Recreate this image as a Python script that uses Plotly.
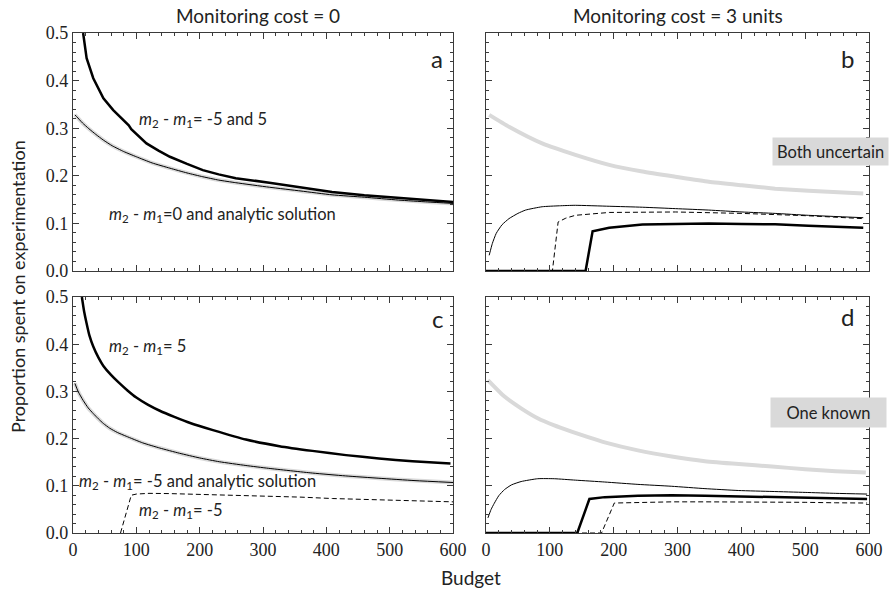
import plotly.graph_objects as go

# ---------------- data ----------------
# Panel a (monitoring cost = 0, both uncertain)
a_thick_x = [16, 21.5, 32, 48, 63.5, 75, 84, 88, 92, 104, 116, 135, 153, 180, 205, 230, 257, 310, 360, 409, 460, 514, 560, 600]
a_thick_y = [0.5, 0.447, 0.405, 0.363, 0.338, 0.323, 0.312, 0.306, 0.298, 0.282, 0.268, 0.253, 0.240, 0.225, 0.212, 0.203, 0.195, 0.1855, 0.175, 0.166, 0.159, 0.153, 0.149, 0.145]
a_thin_x = [3, 6, 15, 25, 36, 48, 62, 80, 100, 125, 153, 180, 205, 230, 257, 310, 360, 409, 460, 514, 560, 600]
a_thin_y = [0.328, 0.324, 0.311, 0.299, 0.287, 0.275, 0.263, 0.251, 0.240, 0.227, 0.216, 0.206, 0.198, 0.191, 0.1855, 0.176, 0.168, 0.160, 0.155, 0.149, 0.145, 0.142]

# Panel b (monitoring cost = 3, both uncertain)
b_gray_x = [5, 36, 88, 140, 193, 245, 297, 349, 401, 453, 505, 591]
b_gray_y = [0.328, 0.303, 0.268, 0.244, 0.223, 0.209, 0.198, 0.1875, 0.180, 0.173, 0.1685, 0.163]
b_thin_x = [5, 10, 16, 25, 36, 50, 62, 88, 115, 140, 193, 245, 297, 349, 401, 453, 505, 591]
b_thin_y = [0.033, 0.058, 0.079, 0.097, 0.110, 0.121, 0.128, 0.135, 0.137, 0.138, 0.136, 0.134, 0.131, 0.128, 0.124, 0.121, 0.117, 0.112]
b_dash_x = [0, 104, 113, 125, 140, 193, 297, 401, 505, 591]
b_dash_y = [0, 0, 0.103, 0.111, 0.117, 0.123, 0.124, 0.121, 0.116, 0.110]
b_thick_x = [0, 156, 167, 180, 193, 245, 297, 349, 401, 453, 505, 591]
b_thick_y = [0, 0, 0.0836, 0.088, 0.091, 0.0976, 0.099, 0.0997, 0.099, 0.098, 0.095, 0.091]

# Panel c (monitoring cost = 0, one known)
c_thick_x = [14, 17.5, 21.5, 26, 32, 40, 48, 60, 72, 86, 100, 118, 137, 160, 185, 221, 273, 326, 378, 431, 483, 536, 596]
c_thick_y = [0.5, 0.47, 0.444, 0.418, 0.395, 0.372, 0.354, 0.335, 0.319, 0.302, 0.287, 0.272, 0.259, 0.246, 0.233, 0.218, 0.198, 0.184, 0.174, 0.165, 0.158, 0.152, 0.147]
c_thin_x = [3, 8, 16, 24, 32, 40, 48, 58, 70, 84, 110, 137, 168, 200, 231, 273, 309, 378, 430, 483, 540, 600]
c_thin_y = [0.317, 0.300, 0.281, 0.265, 0.253, 0.242, 0.232, 0.222, 0.213, 0.205, 0.191, 0.180, 0.169, 0.159, 0.151, 0.143, 0.137, 0.127, 0.121, 0.116, 0.111, 0.107]
c_dash_x = [75, 92, 100, 120, 152, 200, 253, 309, 360, 410, 460, 514, 560, 600]
c_dash_y = [0, 0.080, 0.0825, 0.084, 0.0835, 0.082, 0.080, 0.0785, 0.076, 0.073, 0.071, 0.069, 0.067, 0.066]

# Panel d (monitoring cost = 3, one known)
d_gray_x = [3, 29, 55, 81, 107, 134, 160, 186, 238, 291, 343, 396, 448, 500, 548, 595]
d_gray_y = [0.324, 0.289, 0.264, 0.243, 0.228, 0.215, 0.203, 0.192, 0.175, 0.162, 0.152, 0.146, 0.141, 0.135, 0.131, 0.128]
d_thin_x = [3, 8, 13, 20, 29, 40, 55, 81, 107, 140, 186, 238, 291, 343, 396, 448, 500, 548, 597]
d_thin_y = [0.032, 0.050, 0.063, 0.079, 0.092, 0.102, 0.109, 0.115, 0.115, 0.112, 0.108, 0.103, 0.099, 0.094, 0.090, 0.088, 0.086, 0.084, 0.0825]
d_thick_x = [0, 143, 162, 186, 238, 291, 343, 396, 448, 500, 548, 597]
d_thick_y = [0, 0, 0.072, 0.076, 0.079, 0.080, 0.079, 0.0776, 0.076, 0.074, 0.073, 0.072]
d_dash_x = [0, 181, 201, 238, 291, 343, 396, 448, 500, 548, 597]
d_dash_y = [0, 0, 0.0635, 0.065, 0.066, 0.066, 0.066, 0.0656, 0.065, 0.064, 0.0635]

x_ticks = [0, 100, 200, 300, 400, 500, 600]
y_ticks = [0.0, 0.1, 0.2, 0.3, 0.4, 0.5]
col_titles = ["Monitoring cost = 0", "Monitoring cost = 3 units"]
panel_letters = ["a", "b", "c", "d"]

# ---------------- figure ----------------
W, H = 889, 590
GRAY = "#d9d9d9"
SANS = "Lato, Open Sans, sans-serif"
SERIF = "Liberation Serif, Times New Roman, serif"

def px(x):
    return x / W

def py(y):
    return 1 - y / H

fig = go.Figure()

def add(xs, ys, axis, color="black", width=1.0, dash="solid", shape="spline"):
    fig.add_trace(go.Scatter(
        x=xs, y=ys, mode="lines", xaxis="x" + axis, yaxis="y" + axis,
        line=dict(color=color, width=width, dash=dash, shape=shape,
                  smoothing=0.5 if shape == "spline" else None),
        showlegend=False, hoverinfo="skip"))

# a
add(a_thin_x, a_thin_y, "", GRAY, 4)
add(a_thin_x, a_thin_y, "", "black", 1)
add(a_thick_x, a_thick_y, "", "black", 2.5, "solid", "linear")
# b
add(b_gray_x, b_gray_y, "2", GRAY, 4)
add(b_thin_x, b_thin_y, "2", "black", 1)
add(b_dash_x, b_dash_y, "2", "black", 1, "5px,3px", "linear")
add(b_thick_x, b_thick_y, "2", "black", 2.5, "solid", "linear")
# c
add(c_thin_x, c_thin_y, "3", GRAY, 4)
add(c_thin_x, c_thin_y, "3", "black", 1)
add(c_thick_x, c_thick_y, "3", "black", 2.5)
add(c_dash_x, c_dash_y, "3", "black", 1, "5px,3px", "linear")
# d
add(d_gray_x, d_gray_y, "4", GRAY, 4)
add(d_thin_x, d_thin_y, "4", "black", 1)
add(d_thick_x, d_thick_y, "4", "black", 2.5, "solid", "linear")
add(d_dash_x, d_dash_y, "4", "black", 1, "5px,3px", "linear")

xl = [px(73), px(453)]
xr = [px(486), px(869)]
yt = [py(271), py(33)]
yb = [py(533), py(297)]

LC = "#3a3a3a"

def xaxis(domain, anchor, labels):
    return dict(domain=domain, anchor=anchor, range=[0, 600], tickvals=x_ticks,
                showticklabels=labels, ticks="inside", ticklen=6, tickcolor=LC,
                minor=dict(ticks="inside", dtick=20, tick0=0, ticklen=3, tickcolor=LC),
                mirror="allticks", showline=True, linecolor=LC, linewidth=1.2,
                showgrid=False, zeroline=False, automargin=False,
                tickfont=dict(family=SERIF, size=18, color="#222"))

def yaxis(domain, anchor, labels):
    return dict(domain=domain, anchor=anchor, range=[0, 0.5], tickvals=y_ticks,
                tickformat=".1f", showticklabels=labels, ticks="inside", ticklen=6,
                tickcolor=LC,
                minor=dict(ticks="inside", dtick=0.02, tick0=0, ticklen=3, tickcolor=LC),
                mirror="allticks", showline=True, linecolor=LC, linewidth=1.2,
                showgrid=False, zeroline=False, automargin=False,
                tickfont=dict(family=SERIF, size=18, color="#222"))

fig.update_layout(
    width=W, height=H, margin=dict(l=0, r=0, t=0, b=0),
    paper_bgcolor="white", plot_bgcolor="white",
    font=dict(family=SERIF, size=18, color="#222"),
    xaxis=xaxis(xl, "y", False), yaxis=yaxis(yt, "x", True),
    xaxis2=xaxis(xr, "y2", False), yaxis2=yaxis(yt, "x2", False),
    xaxis3=xaxis(xl, "y3", True), yaxis3=yaxis(yb, "x3", True),
    xaxis4=xaxis(xr, "y4", True), yaxis4=yaxis(yb, "x4", False),
)

ann = []

def text(x, y, s, size=16.5, xanchor="left", **kw):
    ann.append(dict(x=px(x), y=py(y), xref="paper", yref="paper", text=s,
                    showarrow=False, xanchor=xanchor, yanchor="middle",
                    font=dict(family=SANS, size=size, color="#222"), **kw))

m = "<i>m</i><sub>2</sub> - <i>m</i><sub>1</sub>"
# column titles
text(258, 15, col_titles[0], 19, "center")
text(678, 15, col_titles[1], 19, "center")
# panel letters
text(437, 58, panel_letters[0], 24, "center")
text(847, 58, panel_letters[1], 24, "center")
text(437, 318, panel_letters[2], 24, "center")
text(847, 316, panel_letters[3], 24, "center")
# curve labels
text(137, 119, m + "= -5 and 5")
text(107, 214, m + "=0 and analytic solution")
text(107, 346, m + "= 5")
text(77, 481, m + "= -5 and analytic solution")
text(137, 510, m + "= -5")
# boxes
text(830.5, 151.5, "Both uncertain", 16.5, "center", bgcolor=GRAY, borderpad=4,
     width=107, height=19, align="center")
text(828.5, 412.5, "One known", 16.5, "center", bgcolor=GRAY, borderpad=4,
     width=107, height=21, align="center")
# axis titles
text(471, 577, "Budget", 19, "center")
ann.append(dict(x=px(18), y=py(287), xref="paper", yref="paper",
                text="Proportion spent on experimentation", showarrow=False,
                textangle=-90, xanchor="center", yanchor="middle",
                font=dict(family=SANS, size=18, color="#222")))

fig.update_layout(annotations=ann)
fig.write_html("out.html")
